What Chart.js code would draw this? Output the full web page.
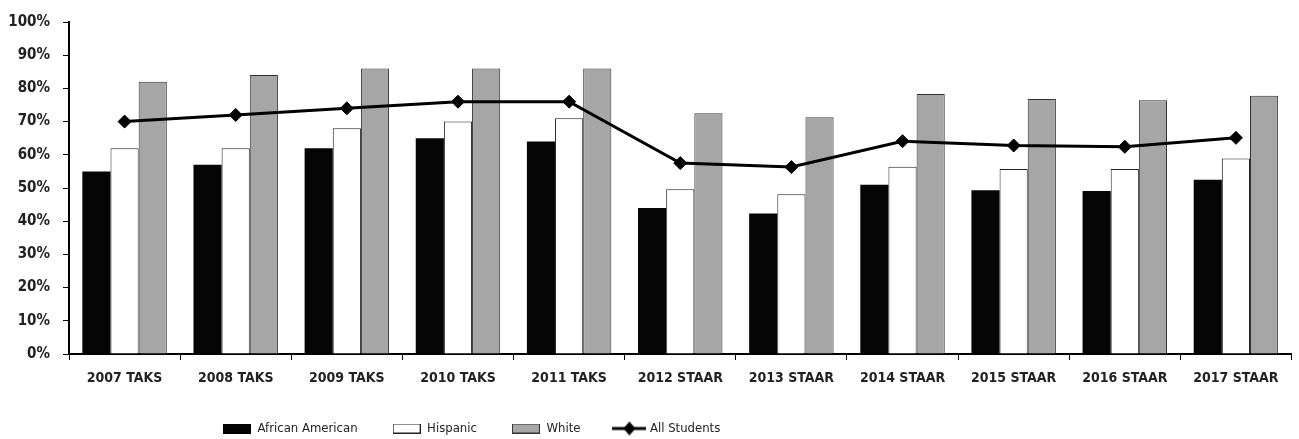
<!DOCTYPE html>
<html>
<head>
<meta charset="utf-8">
<script src="https://cdn.jsdelivr.net/npm/chart.js@4.4.1/dist/chart.umd.min.js"></script>
<style>
  html, body { margin: 0; padding: 0; background: #fff; }
</style>
</head>
<body>
<canvas id="grafico" width="1299" height="439"></canvas>
<script>
// dados
const categories = ['2007 TAKS', '2008 TAKS', '2009 TAKS', '2010 TAKS', '2011 TAKS',
  '2012 STAAR', '2013 STAAR', '2014 STAAR', '2015 STAAR', '2016 STAAR', '2017 STAAR'];
const africanAmerican = [55, 57, 62, 65, 64, 44, 42.3, 51, 49.3, 49.1, 52.5];
const hispanic = [62, 62, 68, 70, 71, 49.6, 48.1, 56.4, 55.7, 55.7, 58.9];
const white = [82, 84, 86, 86, 86, 72.5, 71.3, 78.3, 76.8, 76.4, 77.8];
const allStudents = [70, 72, 74, 76, 76, 57.5, 56.3, 64.1, 62.8, 62.4, 65.1];
const yTicks = [0, 10, 20, 30, 40, 50, 60, 70, 80, 90, 100];

const FONT = "'Liberation Sans Narrow', 'DejaVu Sans Condensed', 'Arial Narrow', sans-serif";

class ChartManager {
    constructor(ctx, type, data, options, plugins) {
        this.ctx = ctx;
        this.type = type;
        this.data = data;
        this.options = options;
        this.plugins = plugins || [];
        this.chart = null;
    }

    render() {
        this.chart = new Chart(this.ctx, {
            type: this.type,
            data: this.data,
            options: this.options,
            plugins: this.plugins
        });
    }
}

// ícones da legenda (caixa para barras, linha com losango para a série de linha)
function boxIcon(fill, stroke) {
    const c = document.createElement('canvas');
    c.width = 28; c.height = 10;
    const g = c.getContext('2d');
    g.fillStyle = fill;
    g.fillRect(0, 0, 28, 10);
    g.strokeStyle = stroke;
    g.lineWidth = 1;
    g.strokeRect(0.5, 0.5, 27, 9);
    return c;
}

function lineIcon() {
    const c = document.createElement('canvas');
    c.width = 34; c.height = 16;
    const g = c.getContext('2d');
    g.strokeStyle = '#000';
    g.lineWidth = 3;
    g.beginPath(); g.moveTo(0, 8); g.lineTo(34, 8); g.stroke();
    g.fillStyle = '#000';
    g.beginPath();
    g.moveTo(17, 1); g.lineTo(23, 8); g.lineTo(17, 15); g.lineTo(11, 8);
    g.closePath(); g.fill();
    return c;
}

const legendIcons = [boxIcon('#050505', '#000'), boxIcon('#fff', '#222'), boxIcon('#a6a6a6', '#333'), lineIcon()];

// posiciona a legenda como no original
const legendPosition = {
    id: 'legendPosition',
    afterLayout(chart) {
        chart.legend.left = 188;
        chart.legend.top = 387;
    }
};

const data = {
    labels: categories,
    datasets: [
        {
            type: 'bar', label: 'African American', data: africanAmerican,
            backgroundColor: '#050505', borderColor: '#000', borderWidth: 0, order: 1,
            categoryPercentage: 0.76, barPercentage: 1.0
        },
        {
            type: 'bar', label: 'Hispanic', data: hispanic,
            backgroundColor: '#fff', borderColor: '#222', borderWidth: 1, order: 1,
            categoryPercentage: 0.76, barPercentage: 1.0
        },
        {
            type: 'bar', label: 'White', data: white,
            backgroundColor: '#a6a6a6', borderColor: '#333', borderWidth: 1, order: 1,
            categoryPercentage: 0.76, barPercentage: 1.0
        },
        {
            type: 'line', label: 'All Students', data: allStudents,
            borderColor: '#000', borderWidth: 3, tension: 0, order: 0,
            pointStyle: 'rectRot', pointRadius: 6.5, pointBackgroundColor: '#000',
            pointBorderColor: '#000', pointBorderWidth: 1
        }
    ]
};

const options = {
    responsive: false,
    animation: false,
    layout: { padding: { top: 20, right: -4, left: 0, bottom: 0 } },
    plugins: {
        tooltip: { enabled: false },
        legend: {
            position: 'bottom',
            align: 'start',
            maxHeight: 45,
            labels: {
                usePointStyle: true,
                pointStyleWidth: 28,
                boxHeight: 10,
                padding: 35,
                color: '#222',
                font: { family: FONT, size: 13 },
                sort: (a, b) => a.datasetIndex - b.datasetIndex,
                generateLabels(chart) {
                    const items = Chart.defaults.plugins.legend.labels.generateLabels(chart);
                    items.forEach(it => { it.pointStyle = legendIcons[it.datasetIndex]; });
                    return items;
                }
            }
        }
    },
    scales: {
        x: {
            grid: { drawOnChartArea: false, drawTicks: true, tickLength: 6, color: '#000', lineWidth: 1, offset: true },
            border: { display: true, color: '#000', width: 2 },
            ticks: { color: '#222', font: { family: FONT, size: 14, weight: 'bold' }, padding: 10, maxRotation: 0, autoSkip: false },
            afterFit(s) { s.height = 40; s.paddingLeft = 0; s.paddingRight = 0; }
        },
        y: {
            min: yTicks[0],
            max: yTicks[yTicks.length - 1],
            afterBuildTicks(s) { s.ticks = yTicks.map(v => ({ value: v })); },
            grid: { drawOnChartArea: false, drawTicks: true, tickLength: 6, color: '#000', lineWidth: 1 },
            border: { display: true, color: '#000', width: 2 },
            ticks: { color: '#222', font: { family: FONT, size: 15, weight: 'bold' }, padding: 13, callback: v => v + '%' },
            afterFit(s) { s.width = 69; }
        }
    }
};

const manager = new ChartManager(document.getElementById('grafico').getContext('2d'), 'bar', data, options, [legendPosition]);
manager.render();
</script>
</body>
</html>
